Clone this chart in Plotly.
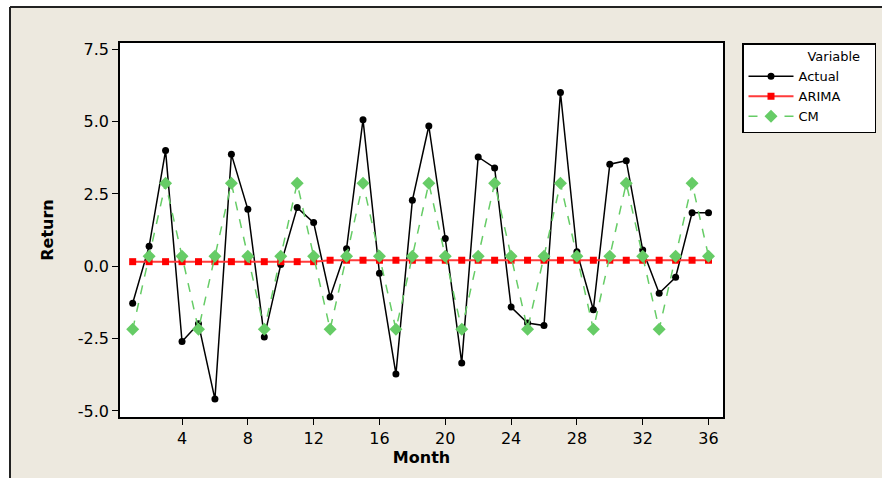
import plotly.graph_objects as go

months = list(range(1, 37))
actual = [-1.28, 0.69, 4.00, -2.60, -1.99, -4.59, 3.87, 1.97, -2.44, 0.06,
          2.03, 1.51, -1.06, 0.61, 5.07, -0.24, -3.72, 2.28, 4.85, 0.96,
          -3.34, 3.78, 3.40, -1.41, -1.96, -2.05, 6.01, 0.50, -1.50, 3.53,
          3.65, 0.56, -0.93, -0.38, 1.85, 1.85]
arima = [0.16] * 12 + [0.21] * 24
cm = [-2.18, 0.35, 2.87, 0.35] * 9
x_ticks = [4, 8, 12, 16, 20, 24, 28, 32, 36]
y_ticks = [-5.0, -2.5, 0.0, 2.5, 5.0, 7.5]

FONT = "DejaVu Sans"
PAD = "\u00a0" * 7
fig = go.Figure()
fig.add_trace(go.Scatter(x=months, y=actual, name="Actual" + PAD, mode="lines+markers",
                         line=dict(color="black", width=1.5),
                         marker=dict(symbol="circle", size=7, color="black")))
fig.add_trace(go.Scatter(x=months, y=arima, name="ARIMA" + PAD, mode="lines+markers",
                         line=dict(color="#FF3B3B", width=2),
                         marker=dict(symbol="square", size=7, color="#FF0000")))
fig.add_trace(go.Scatter(x=months, y=cm, name="CM" + PAD, mode="lines+markers",
                         line=dict(color="#66CC66", width=1.5, dash="dash"),
                         marker=dict(symbol="diamond", size=10, color="#66CC66")))

L, R, T, B = 120, 159, 43, 61
W, H = 882, 478
pw, ph = W - L - R, H - T - B
def px2x(px):
    return (px - L) / pw
def py2y(py):
    return (H - B - py) / ph

BG = "#EDE9DF"
fig.update_layout(
    width=W, height=H,
    margin=dict(l=L, r=R, t=T, b=B, autoexpand=False),
    paper_bgcolor=BG,
    plot_bgcolor="white",
    font=dict(family=FONT, color="black"),
    showlegend=True,
    legend=dict(
        x=px2x(742), y=1, xanchor="left", yanchor="top",
        bgcolor="white", bordercolor="black", borderwidth=1.5,
        font=dict(family=FONT, size=13, color="black"),
        title=dict(text="Variable" + "\u00a0" * 3, side="top right",
                   font=dict(family=FONT, size=13)),
        itemwidth=45, tracegroupgap=0,
    ),
    xaxis=dict(
        range=[0.23, 36.88], tickvals=x_ticks, ticktext=[str(v) for v in x_ticks],
        showgrid=False, zeroline=False, showline=True, linecolor="black", linewidth=1.5,
        mirror=True, ticks="outside", ticklen=6, tickcolor="black", tickwidth=1,
        tickfont=dict(family=FONT, size=16), automargin=False,
        title=dict(text="<b>Month</b>", font=dict(family=FONT, size=16), standoff=3),
    ),
    yaxis=dict(
        range=[-5.21, 7.72], tickvals=y_ticks, ticktext=[f"{v:.1f}" for v in y_ticks],
        showgrid=False, zeroline=False, showline=True, linecolor="black", linewidth=1.5,
        mirror=True, ticks="outside", ticklen=6, tickcolor="black", tickwidth=1,
        tickfont=dict(family=FONT, size=16), automargin=False,
        title=dict(text="<b>Return</b>", font=dict(family=FONT, size=16), standoff=20),
    ),
    shapes=[
        dict(type="rect", xref="paper", yref="paper", layer="below",
             x0=px2x(-10), x1=px2x(900), y0=py2y(7), y1=py2y(-10),
             fillcolor="white", line=dict(width=0)),
        dict(type="rect", xref="paper", yref="paper", layer="below",
             x0=px2x(-10), x1=px2x(10), y0=py2y(490), y1=py2y(-10),
             fillcolor="white", line=dict(width=0)),
        dict(type="line", xref="paper", yref="paper", layer="below",
             x0=px2x(10), x1=px2x(900), y0=py2y(7), y1=py2y(7),
             line=dict(color="#222222", width=2)),
        dict(type="line", xref="paper", yref="paper", layer="below",
             x0=px2x(10), x1=px2x(10), y0=py2y(7), y1=py2y(490),
             line=dict(color="#222222", width=2)),
    ],
)
fig.write_html("out.html", config={"displayModeBar": False},
               post_script="document.body.style.margin='0';document.body.style.overflow='hidden';")
